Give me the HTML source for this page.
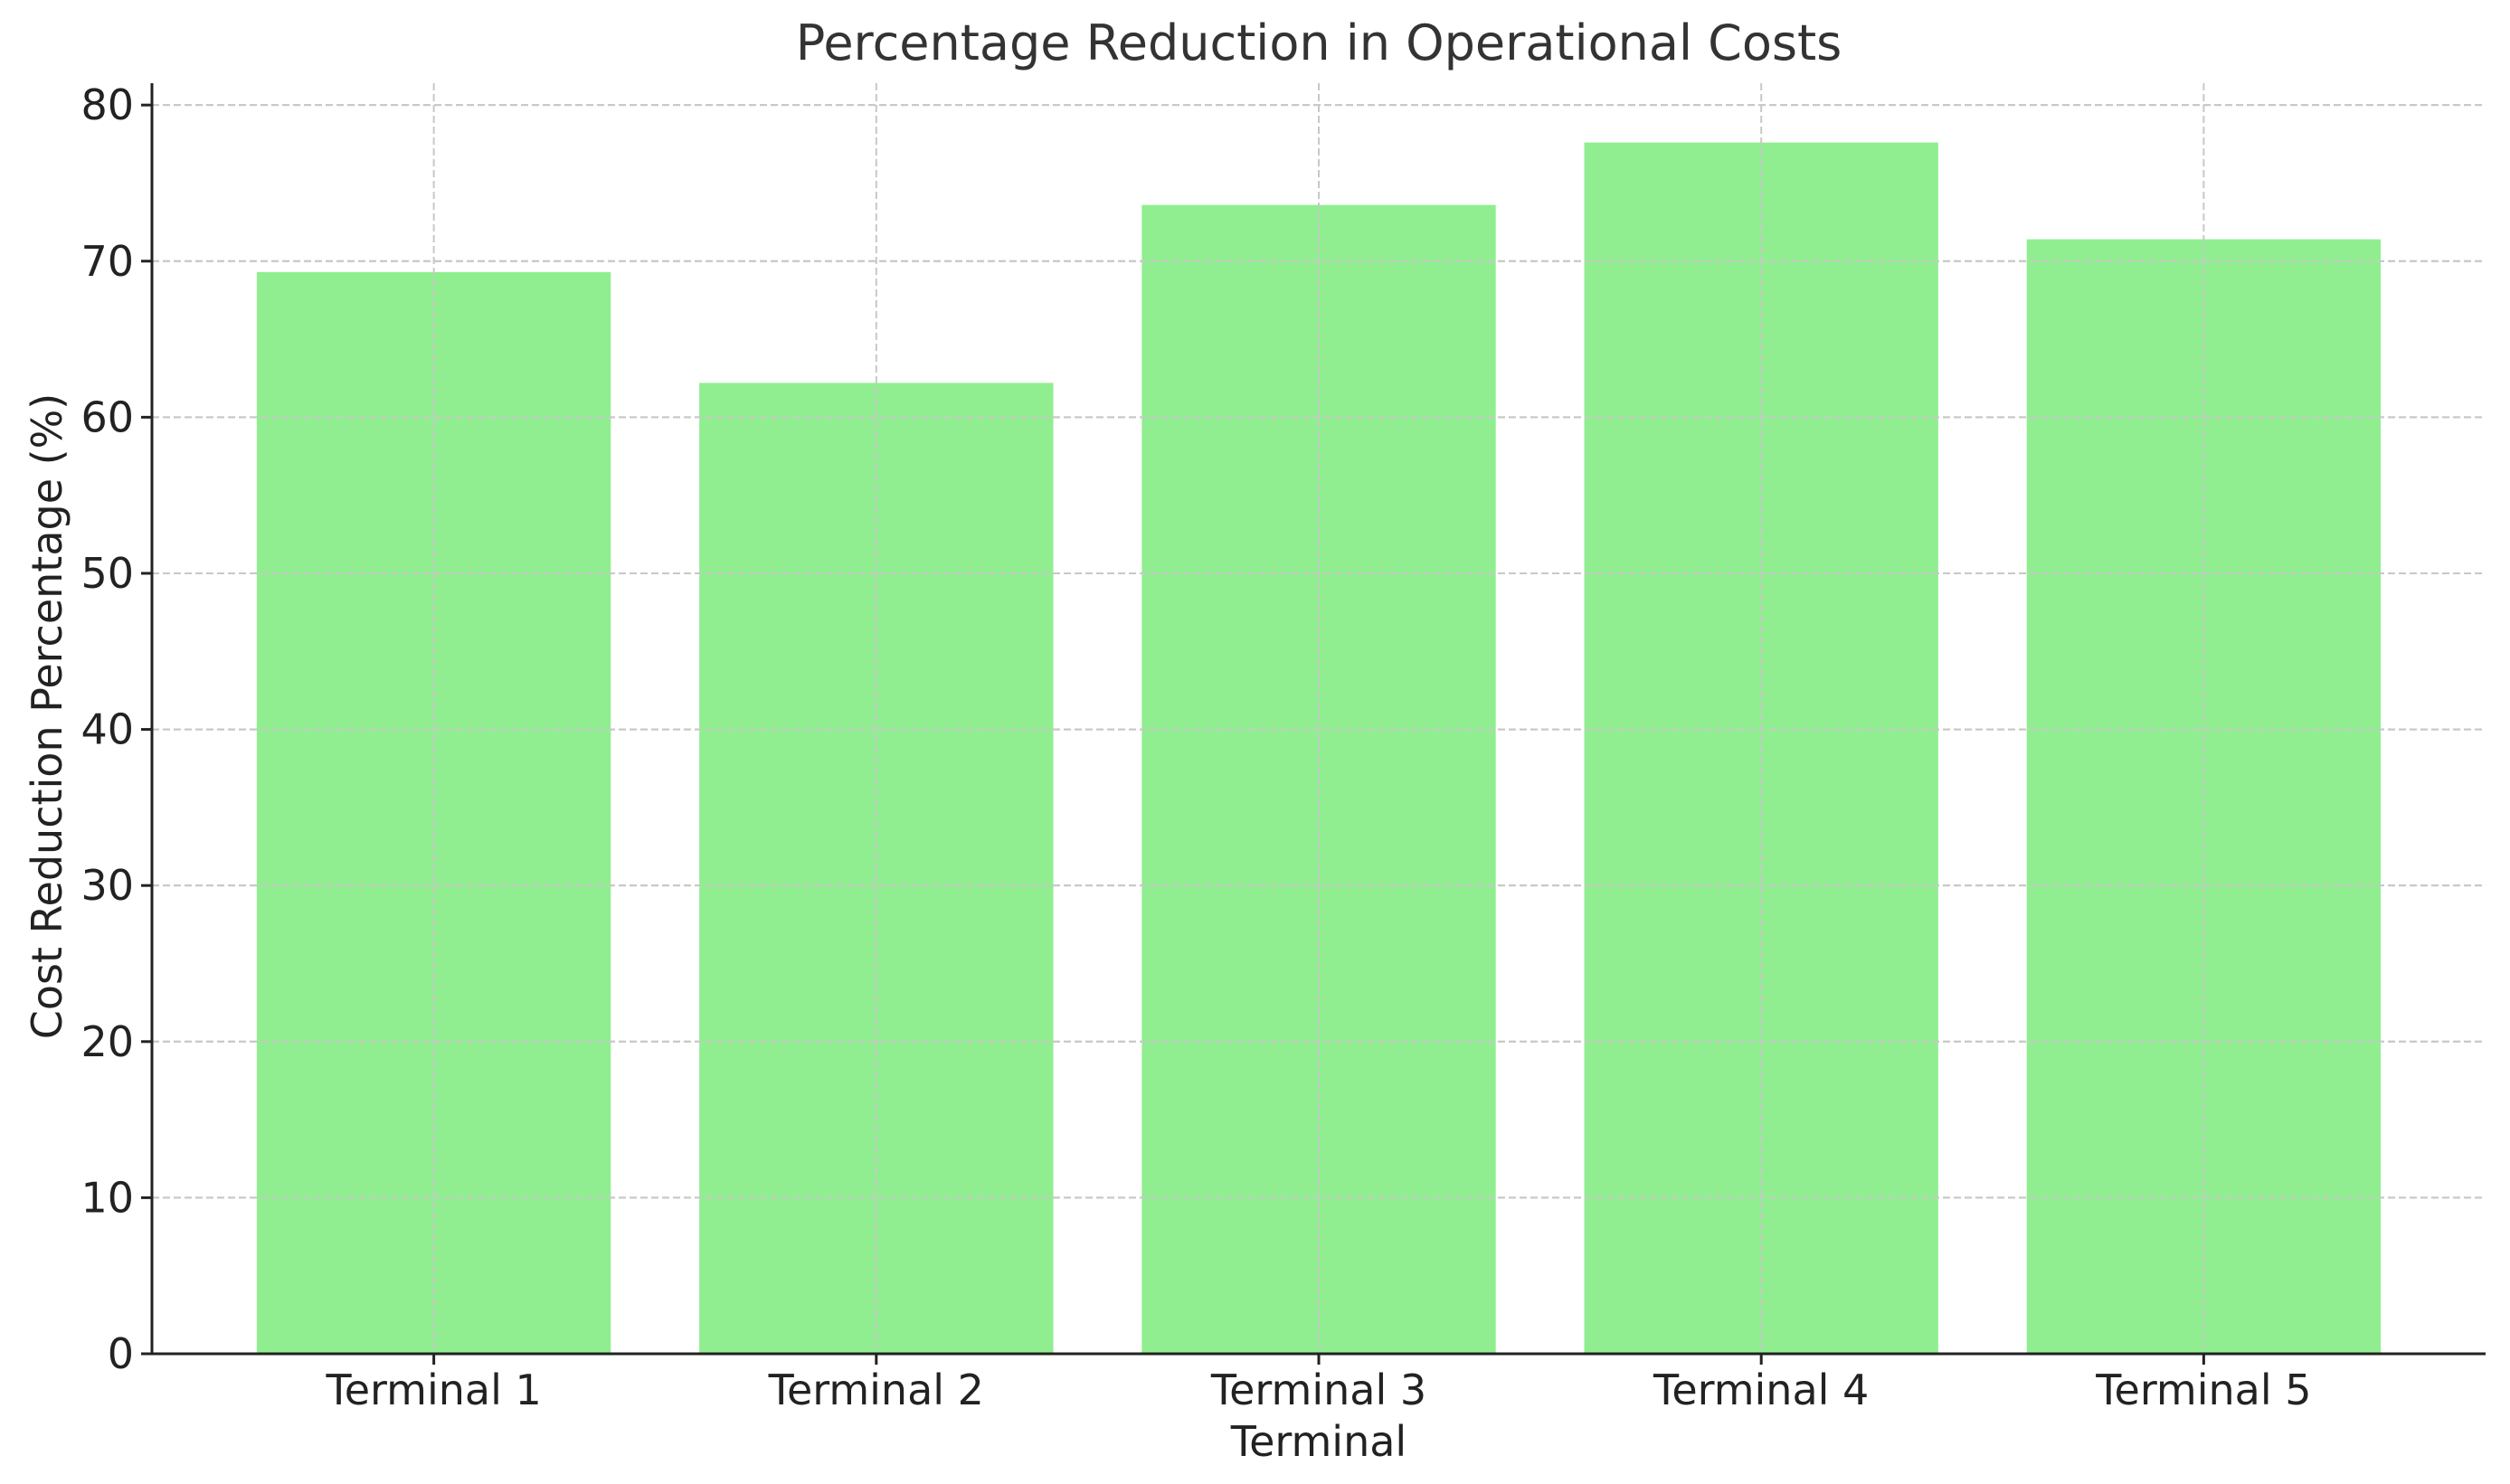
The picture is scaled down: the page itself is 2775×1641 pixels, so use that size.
<!DOCTYPE html>
<html><head><meta charset="utf-8"><style>
html,body{margin:0;padding:0;background:#fff;}
svg{display:block;font-family:"DejaVu Sans","Liberation Sans",sans-serif;}
</style></head><body>
<svg id="chart" width="2775" height="1641" viewBox="0 0 2775 1641">
<text x="1458" y="66" font-size="54" fill="#333" text-anchor="middle">Percentage Reduction in Operational Costs</text>
<g id="grid"></g>
<g id="bars"></g>
<g id="axes"></g>
<text x="1458" y="1610" font-size="46" fill="#222" text-anchor="middle">Terminal</text>
<text transform="translate(68,792) rotate(-90)" font-size="46" fill="#222" text-anchor="middle">Cost Reduction Percentage (%)</text>
</svg>
<script>
const categories = ["Terminal 1","Terminal 2","Terminal 3","Terminal 4","Terminal 5"];
const values = [69.3, 62.2, 73.6, 77.6, 71.4];
const yTicks = [0,10,20,30,40,50,60,70,80];
const L=168,R=2748,B=1497,T=92;
const yMax=81.4, xMin=-0.637, xMax=4.637;
const y=v=>B-(v/yMax)*(B-T);
const x=i=>L+(i-xMin)/(xMax-xMin)*(R-L);
const NS="http://www.w3.org/2000/svg";
const mk=(p,tag,a)=>{const e=document.createElementNS(NS,tag);for(const k in a)e.setAttribute(k,a[k]);p.appendChild(e);return e;};
const grid=document.getElementById('grid'),bars=document.getElementById('bars'),axes=document.getElementById('axes');
const bw=(x(0.8)-x(0));
yTicks.forEach(t=>{
  const g=mk(grid,'line',{x1:L,x2:R,y1:y(t),y2:y(t),stroke:'#c8c8c8','stroke-width':2,'stroke-dasharray':'8,4'});
  
  
  const tk=mk(axes,'line',{x1:L-12,x2:L,y1:y(t),y2:y(t),stroke:'#222','stroke-width':3});
  
  
  const tl=mk(axes,'text',{x:L-20,y:y(t)+16,'font-size':46,fill:'#222','text-anchor':'end'});
  tl.textContent=t;
  
  
});
categories.forEach((c,i)=>{
  const r=mk(bars,'rect',{x:x(i)-bw/2,y:y(values[i]),width:bw,height:B-y(values[i]),fill:'#90ee90'});
  
  
  const tk=mk(axes,'line',{x1:x(i),x2:x(i),y1:B,y2:B+12,stroke:'#222','stroke-width':3});
  
  
  const tl=mk(axes,'text',{x:x(i),y:B+56,'font-size':46,fill:'#222','text-anchor':'middle'});
  tl.textContent=c;
  
  
});
const over=document.createElementNS(NS,'g');


categories.forEach((c,i)=>{
  const g=mk(over,'line',{x1:x(i),x2:x(i),y1:T,y2:B,stroke:'#c8c8c8','stroke-width':2,'stroke-dasharray':'8,4'});
  
  
});
Array.from(grid.querySelectorAll('line')).forEach(l=>over.appendChild(l.cloneNode()));
bars.parentNode.insertBefore(over,axes);
const ya=mk(axes,'line',{x1:L,x2:L,y1:T,y2:B+1.5,stroke:'#222','stroke-width':3});


const xa=mk(axes,'line',{x1:L-1.5,x2:R,y1:B,y2:B,stroke:'#222','stroke-width':3});


</script>
</body></html>
